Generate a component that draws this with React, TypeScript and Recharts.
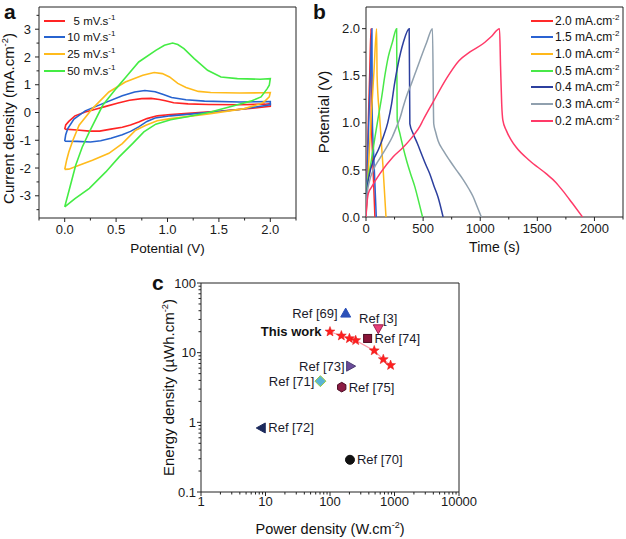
import { LineChart, Line, XAxis, YAxis, ReferenceArea, Legend, Label, ScatterChart, Scatter } from "recharts"

const FONT = "'Liberation Sans', Arial, Helvetica, sans-serif"

// (a) CV loops: [potential V, current mA/cm2], anodic sweep then back
const cv5 = [[0, -0.6], [0.01, -0.45], [0.04, -0.32], [0.1, -0.12], [0.2, 0.02], [0.3, 0.12], [0.4, 0.22], [0.52, 0.34], [0.63, 0.44], [0.75, 0.5], [0.84, 0.51], [0.92, 0.47], [0.98, 0.42], [1.06, 0.35], [1.2, 0.31], [1.4, 0.29], [1.7, 0.28], [1.95, 0.3], [2.0, 0.32], [2.0, 0.22], [1.85, 0.16], [1.52, 0.05], [1.2, -0.03], [1.03, -0.07], [0.9, -0.12], [0.8, -0.22], [0.72, -0.34], [0.64, -0.45], [0.56, -0.53], [0.45, -0.6], [0.34, -0.67], [0.24, -0.67], [0.12, -0.63], [0, -0.6]]
const cv10 = [[0, -1.03], [0.01, -0.8], [0.03, -0.58], [0.09, -0.24], [0.2, 0.06], [0.37, 0.32], [0.56, 0.6], [0.68, 0.74], [0.78, 0.79], [0.88, 0.75], [0.96, 0.65], [1.04, 0.54], [1.18, 0.46], [1.36, 0.41], [1.7, 0.38], [2.0, 0.39], [2.0, 0.28], [1.68, 0.1], [1.3, -0.03], [1.03, -0.12], [0.88, -0.2], [0.8, -0.32], [0.72, -0.52], [0.64, -0.68], [0.56, -0.8], [0.45, -0.93], [0.35, -1.02], [0.25, -1.06], [0.12, -1.04], [0, -1.03]]
const cv25 = [[0, -2.05], [0.02, -1.7], [0.04, -1.42], [0.08, -1.0], [0.14, -0.46], [0.27, 0.14], [0.43, 0.74], [0.59, 1.1], [0.76, 1.34], [0.87, 1.44], [0.95, 1.4], [1.02, 1.28], [1.1, 1.05], [1.18, 0.9], [1.3, 0.76], [1.42, 0.72], [1.7, 0.7], [1.95, 0.71], [2.0, 0.72], [1.99, 0.56], [1.95, 0.42], [1.91, 0.32], [1.75, 0.14], [1.4, -0.05], [1.03, -0.22], [0.9, -0.3], [0.79, -0.46], [0.69, -0.64], [0.56, -1.12], [0.43, -1.47], [0.27, -1.72], [0.14, -1.9], [0.04, -2.04], [0, -2.05]]
const cv50 = [[0, -3.4], [0.05, -2.7], [0.107, -1.9], [0.17, -1.25], [0.24, -0.7], [0.37, 0.26], [0.5, 0.86], [0.6, 1.3], [0.72, 1.82], [0.886, 2.24], [0.97, 2.42], [1.05, 2.5], [1.1, 2.45], [1.16, 2.3], [1.26, 1.94], [1.39, 1.52], [1.52, 1.28], [1.68, 1.22], [1.9, 1.2], [2.0, 1.22], [1.99, 0.98], [1.97, 0.86], [1.91, 0.56], [1.81, 0.41], [1.6, 0.2], [1.4, 0.0], [1.18, -0.16], [1.03, -0.26], [0.886, -0.42], [0.77, -0.7], [0.66, -1.12], [0.53, -1.6], [0.4, -2.14], [0.24, -2.73], [0.1, -3.1], [0, -3.4]]
const cvRates = ["5", "10", "25", "50"]
const cvColors = ["#ff2424", "#2763cf", "#ffbb1c", "#44ec44"]

// (b) GCD: [time s, potential V]
const gcd20 = [[0, 0], [8, 0.45], [20, 1.0], [32, 1.5], [44, 2.0], [46, 1.05], [56, 0.7], [66, 0.38], [78, 0]]
const gcd15 = [[0, 0], [10, 0.45], [24, 1.0], [38, 1.5], [52, 2.0], [55, 1.05], [66, 0.7], [77, 0.38], [90, 0]]
const gcd10 = [[0, 0], [20, 0.5], [45, 1.05], [70, 1.55], [93, 2.0], [97, 1.5], [120, 1.05], [148, 0.55], [175, 0]]
const gcd05 = [[0, 0], [8, 0.3], [40, 0.55], [79, 0.85], [110, 1.08], [137, 1.27], [165, 1.5], [195, 1.7], [230, 1.85], [268, 2.0], [273, 1.03], [297, 0.885], [325, 0.74], [355, 0.6], [390, 0.46], [428, 0.32], [462, 0.16], [495, 0]]
const gcd04 = [[0, 0], [10, 0.3], [30, 0.45], [64, 0.6], [110, 0.72], [151, 0.85], [190, 1.0], [224, 1.2], [248, 1.4], [282, 1.63], [326, 1.85], [378, 2.0], [384, 0.99], [413, 0.885], [450, 0.78], [486, 0.67], [522, 0.56], [558, 0.46], [595, 0.33], [631, 0.21], [675, 0]]
const gcd03 = [[0, 0], [10, 0.25], [30, 0.38], [64, 0.5], [120, 0.62], [180, 0.74], [230, 0.85], [268, 0.96], [300, 1.06], [326, 1.17], [360, 1.3], [399, 1.42], [435, 1.54], [471, 1.66], [530, 1.85], [582, 2.0], [593, 0.99], [610, 0.9], [631, 0.81], [680, 0.7], [733, 0.6], [790, 0.5], [849, 0.4], [900, 0.3], [936, 0.22], [970, 0.12], [1010, 0]]
const gcd02 = [[0, 0], [6, 0.11], [20, 0.25], [50, 0.32], [122, 0.46], [238, 0.64], [326, 0.74], [428, 0.885], [470, 0.96], [500, 1.03], [587, 1.22], [704, 1.47], [814, 1.66], [907, 1.75], [1024, 1.84], [1100, 1.92], [1169, 2.0], [1178, 1.6], [1188, 1.2], [1198, 1.03], [1228, 0.92], [1270, 0.82], [1315, 0.74], [1431, 0.6], [1577, 0.46], [1660, 0.37], [1722, 0.28], [1810, 0.14], [1896, 0]]
const gcdCurrents = ["2.0", "1.5", "1.0", "0.5", "0.4", "0.3", "0.2"]
const gcdColors = ["#ff2a2a", "#2a62d2", "#ffb81a", "#48e848", "#2c3f9e", "#90a0ae", "#ff3a68"]

// (c) Ragone plot
const refNames = ["Ref [69]", "Ref [3]", "Ref [74]", "Ref [73]", "Ref [71]", "Ref [75]", "Ref [72]", "Ref [70]"]
const refPower = [175, 560, 383, 209, 71, 152, 8.6, 204]
const refEnergy = [37, 22, 16, 6.4, 3.9, 3.2, 0.83, 0.29]
const workPower = [100, 150, 200, 250, 485, 670, 870]
const workEnergy = [20, 17.5, 16, 15, 10.7, 8, 6.6]

// tick values
const aXTicks = [-0.25, 0, 0.25, 0.5, 0.75, 1, 1.25, 1.5, 1.75, 2, 2.25]
const aXMajor = [0, 0.5, 1, 1.5, 2]
const aYTicks = [-3.5, -3, -2.5, -2, -1.5, -1, -0.5, 0, 0.5, 1, 1.5, 2, 2.5, 3, 3.5]
const aYMajor = [-3, -2, -1, 0, 1, 2, 3]
const bXTicks = [0, 250, 500, 750, 1000, 1250, 1500, 1750, 2000, 2250]
const bXMajor = [0, 500, 1000, 1500, 2000]
const bYTicks = [0, 0.25, 0.5, 0.75, 1, 1.25, 1.5, 1.75, 2]
const bYMajor = [0, 0.5, 1, 1.5, 2]
const cXMajor = [1, 10, 100, 1000, 10000]
const cYMajor = [0.1, 1, 10, 100]
const withMinors = (majors: number[]) =>
  majors.flatMap((m, i) => (i < majors.length - 1 ? [1, 2, 3, 4, 5, 6, 7, 8, 9].map((k) => m * k) : [m]))

const refStyles = [
  { kind: "up", fill: "#2b50b8", stroke: "#2b50b8", anchor: "end", dx: -8, dy: 4.5 },
  { kind: "down", fill: "#e8407a", stroke: "#9a2050", anchor: "middle", dx: 0, dy: -6 },
  { kind: "square", fill: "#8a1438", stroke: "#4a0a20", anchor: "start", dx: 7, dy: 5 },
  { kind: "right", fill: "#6b4c9a", stroke: "#4a3a70", anchor: "end", dx: -6, dy: 5 },
  { kind: "diamond", fill: "#5ab4d6", stroke: "#9ccc40", anchor: "end", dx: -6, dy: 4.5 },
  { kind: "hex", fill: "#8c1c44", stroke: "#4a0a22", anchor: "start", dx: 7, dy: 5 },
  { kind: "left", fill: "#1c2a5c", stroke: "#1c2a5c", anchor: "start", dx: 7, dy: 4.5 },
  { kind: "circle", fill: "#111111", stroke: "#111111", anchor: "start", dx: 7, dy: 4.5 },
]

const near = (v: number, list: number[]) => list.some((m) => Math.abs(m - v) < 1e-9)

function xTick(majors: number[], fmt: (v: number) => string, gap: number) {
  return (p: any) => {
    const v = p.payload.value
    const big = near(v, majors)
    return (
      <g>
        <line x1={p.x} x2={p.x} y1={p.y} y2={p.y + (big ? 4 : 2.5)} stroke="#222" />
        {big && (
          <text x={p.x} y={p.y + gap} textAnchor="middle" fontSize={13} fontFamily={FONT} fill="#1a1a1a">
            {fmt(v)}
          </text>
        )}
      </g>
    )
  }
}

function yTick(majors: number[], fmt: (v: number) => string, gap: number) {
  return (p: any) => {
    const v = p.payload.value
    const big = near(v, majors)
    return (
      <g>
        <line x1={p.x} x2={p.x - (big ? 4 : 2.5)} y1={p.y} y2={p.y} stroke="#222" />
        {big && (
          <text x={p.x - gap} y={p.y + 4.6} textAnchor="end" fontSize={13} fontFamily={FONT} fill="#1a1a1a">
            {fmt(v)}
          </text>
        )}
      </g>
    )
  }
}

function xTitle(main: string, sup: string, tail: string, dy: number, size = 14) {
  return (p: any) => {
    const vb = p.viewBox
    return (
      <text x={vb.x + vb.width / 2} y={vb.y + dy} textAnchor="middle" fontFamily={FONT} fontSize={size} fill="#111">
        {main}
        {sup && <tspan dy={-5.5} fontSize={size * 0.62}>{sup}</tspan>}
        {sup && <tspan dy={5.5}>{tail}</tspan>}
      </text>
    )
  }
}

function yTitle(main: string, sup: string, tail: string, bx: number, shift = 0, size = 15) {
  return (p: any) => {
    const vb = p.viewBox
    const cx = vb.x + bx
    const cy = vb.y + vb.height / 2 + shift
    return (
      <text x={cx} y={cy} transform={`rotate(-90 ${cx} ${cy})`} textAnchor="middle" fontFamily={FONT} fontSize={size} fill="#111">
        {main}
        {sup && <tspan dy={-6} fontSize={size * 0.62}>{sup}</tspan>}
        {sup && <tspan dy={6}>{tail}</tspan>}
      </text>
    )
  }
}

const toPts = (arr: number[][]) => arr.map(([x, y]) => ({ x, y }))

const CvLegend = () => (
  <div style={{ fontFamily: FONT, fontSize: 11.5, color: "#111" }}>
    {cvRates.map((r, i) => (
      <div key={r} style={{ display: "flex", alignItems: "center", height: 16.7, whiteSpace: "nowrap" }}>
        <span style={{ width: 21, borderTop: `2px solid ${cvColors[i]}`, marginRight: 2 }} />
        <span style={{ display: "inline-block", width: 13, textAlign: "right" }}>{r}</span>
        <span>
          &nbsp;mV.s<sup style={{ fontSize: 8, lineHeight: 0 }}>-1</sup>
        </span>
      </div>
    ))}
  </div>
)

const GcdLegend = () => (
  <div style={{ fontFamily: FONT, fontSize: 12, color: "#111" }}>
    {gcdCurrents.map((c, i) => (
      <div key={c} style={{ display: "flex", alignItems: "center", height: 16.7, whiteSpace: "nowrap" }}>
        <span style={{ width: 22, borderTop: `2px solid ${gcdColors[i]}`, marginRight: 2 }} />
        <span>
          {c} mA.cm<sup style={{ fontSize: 8, lineHeight: 0 }}>-2</sup>
        </span>
      </div>
    ))}
  </div>
)

function Marker({ kind, cx, cy, fill, stroke }: any) {
  const r = 5
  if (kind === "circle") return <circle cx={cx} cy={cy} r={4.5} fill={fill} stroke={stroke} />
  if (kind === "square") return <rect x={cx - 4} y={cy - 4} width={8} height={8} fill={fill} stroke={stroke} />
  let pts: number[][] = []
  if (kind === "up") pts = [[0, -r], [r, r * 0.8], [-r, r * 0.8]]
  if (kind === "down") pts = [[0, r], [r, -r * 0.8], [-r, -r * 0.8]]
  if (kind === "right") pts = [[r, 0], [-r * 0.8, r], [-r * 0.8, -r]]
  if (kind === "left") pts = [[-r, 0], [r * 0.8, r], [r * 0.8, -r]]
  if (kind === "diamond") pts = [[0, -r - 0.5], [r + 0.5, 0], [0, r + 0.5], [-r - 0.5, 0]]
  if (kind === "hex") pts = [0, 1, 2, 3, 4, 5].map((k) => [4.8 * Math.cos((Math.PI / 3) * k + Math.PI / 6), 4.8 * Math.sin((Math.PI / 3) * k + Math.PI / 6)])
  return <polygon points={pts.map(([a, b]) => `${cx + a},${cy + b}`).join(" ")} fill={fill} stroke={stroke} strokeWidth={1} />
}

const starPoints = (cx: number, cy: number) =>
  Array.from({ length: 10 }, (_, k) => {
    const rad = k % 2 === 0 ? 5.2 : 2.2
    const ang = -Math.PI / 2 + (Math.PI / 5) * k
    return `${cx + rad * Math.cos(ang)},${cy + rad * Math.sin(ang)}`
  }).join(" ")

const letterStyle = { position: "absolute" as const, fontSize: 21, fontWeight: "bold" as const, lineHeight: "24px", color: "#111" }

export default function App() {
  const cvSets = [cv5, cv10, cv25, cv50]
  const gcdSets = [gcd20, gcd15, gcd10, gcd05, gcd04, gcd03, gcd02]
  const workData = workPower.map((x, i) => ({ x, y: workEnergy[i], tag: i === 0 ? "This work" : "" }))

  return (
    <div style={{ position: "absolute", left: 0, top: 0, width: 626, height: 539, background: "#fff", fontFamily: FONT }}>
      <div style={{ ...letterStyle, left: 4, top: 0 }}>a</div>
      <div style={{ ...letterStyle, left: 313, top: 0 }}>b</div>
      <div style={{ ...letterStyle, left: 152, top: 271 }}>c</div>

      {/* panel a */}
      <div style={{ position: "absolute", left: 0, top: 0 }}>
        <LineChart width={310} height={265} margin={{ top: 7, right: 14, bottom: 0, left: 0 }}>
          <XAxis type="number" dataKey="x" domain={[-0.25, 2.25]} ticks={aXTicks} interval={0} height={47}
            axisLine={false} tickLine={false} tickSize={0} tickMargin={0} allowDataOverflow
            tick={xTick(aXMajor, (v) => v.toFixed(1), 15.5)}>
            <Label content={xTitle("Potential (V)", "", "", 35, 13.5)} />
          </XAxis>
          <YAxis type="number" domain={[-3.8, 3.8]} ticks={aYTicks} interval={0} width={39}
            axisLine={false} tickLine={false} tickSize={0} tickMargin={0} allowDataOverflow
            tick={yTick(aYMajor, (v) => String(v), 8)}>
            <Label content={yTitle("Current density (mA.cm", "-2", ")", 14, 6)} />
          </YAxis>
          {cvSets.map((s, i) => (
            <Line key={cvRates[i]} data={toPts(s)} dataKey="y" type="linear" stroke={cvColors[i]} strokeWidth={1.6}
              dot={false} isAnimationActive={false} name={cvRates[i]} />
          ))}
          <ReferenceArea x1={-0.25} x2={2.25} y1={-3.8} y2={3.8} fill="none" stroke="#222" strokeWidth={1} />
          <Legend content={<CvLegend />} layout="vertical" align="center" verticalAlign="middle"
            wrapperStyle={{ left: 44, top: 12.3, width: "auto" }} />
        </LineChart>
      </div>

      {/* panel b */}
      <div style={{ position: "absolute", left: 310, top: 0 }}>
        <LineChart width={316} height={265} margin={{ top: 7, right: 3, bottom: 0, left: 0 }}>
          <XAxis type="number" dataKey="x" domain={[0, 2250]} ticks={bXTicks} interval={0} height={48}
            axisLine={false} tickLine={false} tickSize={0} tickMargin={0} allowDataOverflow
            tick={xTick(bXMajor, (v) => String(v), 15.5)}>
            <Label content={xTitle("Time (s)", "", "", 35, 14)} />
          </XAxis>
          <YAxis type="number" domain={[0, 2.23]} ticks={bYTicks} interval={0} width={56}
            axisLine={false} tickLine={false} tickSize={0} tickMargin={0} allowDataOverflow
            tick={yTick(bYMajor, (v) => v.toFixed(1), 6)}>
            <Label content={yTitle("Potential (V)", "", "", 19, 0)} />
          </YAxis>
          {gcdSets.map((s, i) => (
            <Line key={gcdCurrents[i]} data={toPts(s)} dataKey="y" type="monotone" stroke={gcdColors[i]} strokeWidth={1.5}
              dot={false} isAnimationActive={false} name={gcdCurrents[i]} />
          ))}
          <ReferenceArea x1={0} x2={2250} y1={0} y2={2.23} fill="none" stroke="#222" strokeWidth={1} />
          <Legend content={<GcdLegend />} layout="vertical" align="center" verticalAlign="middle"
            wrapperStyle={{ left: 221, top: 12.3, width: "auto" }} />
        </LineChart>
      </div>

      {/* panel c */}
      <div style={{ position: "absolute", left: 150, top: 270 }}>
        <ScatterChart width={340} height={269} margin={{ top: 13, right: 31, bottom: 0, left: 0 }}>
          <XAxis type="number" dataKey="x" scale="log" domain={[1, 10000]} ticks={withMinors(cXMajor)} interval={0} height={47}
            axisLine={false} tickLine={false} tickSize={0} tickMargin={0} allowDataOverflow
            tick={xTick(cXMajor, (v) => String(v), 14)}>
            <Label content={xTitle("Power density (W.cm", "-2", ")", 41.5, 14.5)} />
          </XAxis>
          <YAxis type="number" dataKey="y" scale="log" domain={[0.1, 100]} ticks={withMinors(cYMajor)} interval={0} width={51}
            axisLine={false} tickLine={false} tickSize={0} tickMargin={0} allowDataOverflow
            tick={yTick(cYMajor, (v) => String(v), 5)}>
            <Label content={yTitle("Energy density (\u00b5Wh.cm", "-2", ")", 24, 0)} />
          </YAxis>
          {refNames.map((n, i) => (
            <Scatter key={n} name={n} data={[{ x: refPower[i], y: refEnergy[i], tag: n }]} isAnimationActive={false}
              shape={(p: any) => {
                const st = refStyles[i]
                return (
                  <g>
                    <Marker kind={st.kind} cx={p.cx} cy={p.cy} fill={st.fill} stroke={st.stroke} />
                    <text x={p.cx + st.dx} y={p.cy + st.dy} textAnchor={st.anchor as any} fontSize={13} fontFamily={FONT} fill="#1a1a2a">
                      {p.payload.tag}
                    </text>
                  </g>
                )
              }} />
          ))}
          <Scatter name="This work" data={workData} isAnimationActive={false} fill="#ff1f1f"
            line={{ stroke: "#ff9aa8", strokeWidth: 1.2 }}
            shape={(p: any) => (
              <g>
                <polygon points={starPoints(p.cx, p.cy)} fill="#ff1f1f" stroke="#e01010" strokeWidth={0.5} />
                {p.payload.tag && (
                  <text x={p.cx - 8.5} y={p.cy + 4} textAnchor="end" fontSize={13} fontWeight="bold" fontFamily={FONT} fill="#111">
                    {p.payload.tag}
                  </text>
                )}
              </g>
            )} />
          <ReferenceArea x1={1} x2={10000} y1={0.1} y2={100} fill="none" stroke="#222" strokeWidth={1} />
        </ScatterChart>
      </div>
    </div>
  )
}
